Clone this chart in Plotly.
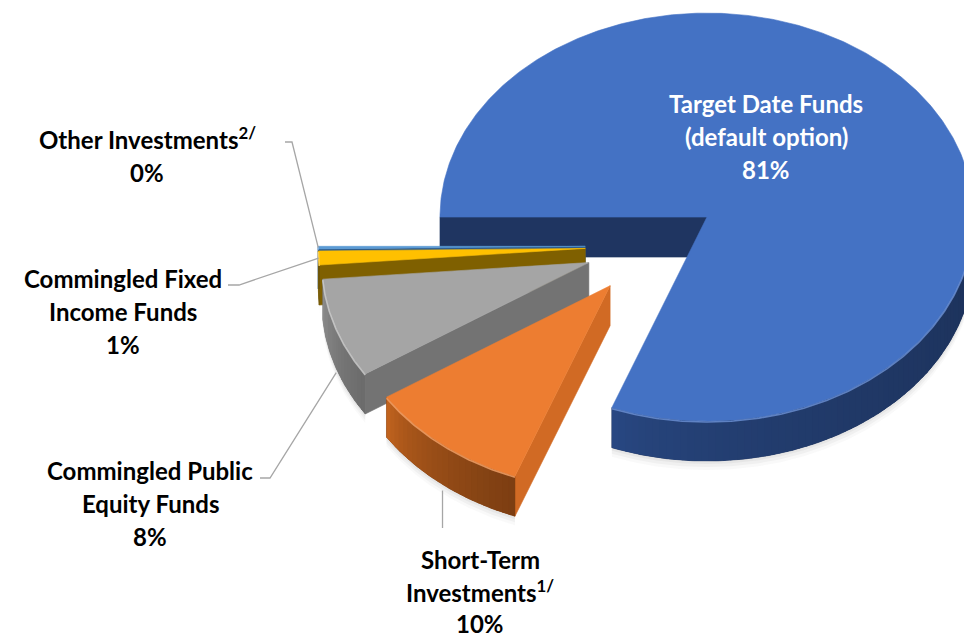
import numpy as np
import plotly.graph_objects as go

# ---- data -------------------------------------------------------------
categories = [
    "Target Date Funds (default option)",
    "Short-Term Investments",
    "Commingled Public Equity Funds",
    "Commingled Fixed Income Funds",
    "Other Investments",
]
label_lines = [
    ["Target Date Funds", "(default option)"],
    ["Short-Term", "Investments<sup>1/</sup>"],
    ["Commingled Public", "Equity Funds"],
    ["Commingled Fixed", "Income Funds"],
    ["Other Investments<sup>2/</sup>"],
]
shares = [80.8, 10.0, 7.9, 1.1, 0.2]

# ---- styling ----------------------------------------------------------
top_colors = ["#4472C4", "#ED7D31", "#A5A5A5", "#FFC000", "#5B9BD5"]
face_colors = ["#1F3561", "#D16A24", "#737373", "#7F6000", "#2F5C8A"]
wall_light = ["#294985", "#CA6820", "#999999", "#B38700", "#3E6E9E"]
wall_dark = ["#1C3159", "#7C3E12", "#6B6B6B", "#6A5000", "#254C75"]
bevel_colors = ["#6D92D6", "#F6A46B", "#CFCFCF", "#FFD966", "#8DB9E6"]
text_colors = ["white", "black", "black", "black", "black"]

# label placement: centre x and y of the first line, and line gap
label_pos = [(766, 103), (480, 559), (150, 470), (123, 278), (147, 138)]
label_gap = [33, 32, 33, 33, 34]
FONT = "Lato"
FONT_SIZE = 24

# pie geometry (pixel space)
CX, CY = 652, 246
RX, RY = 267, 204
DEPTH = 40
EXPLODE = 0.25
START = 180.0  # degrees, slices run clockwise


def col_mix(c1, c2, t):
    a = np.array([int(c1[i:i + 2], 16) for i in (1, 3, 5)], float)
    b = np.array([int(c2[i:i + 2], 16) for i in (1, 3, 5)], float)
    c = a + (b - a) * t
    return "rgb(%d,%d,%d)" % tuple(np.round(c))


def point(theta, shift, r=1.0, dz=0.0):
    t = np.radians(theta)
    return (CX + shift[0] + r * RX * np.cos(t),
            CY + shift[1] - r * RY * np.sin(t) + dz)


def arc(a, b, shift, dz=0.0, step=1.0):
    n = max(2, int(abs(b - a) / step) + 1)
    ts = np.linspace(a, b, n)
    xs, ys = zip(*[point(t, shift, dz=dz) for t in ts])
    return list(xs), list(ys)


fig = go.Figure()


def poly(xs, ys, color, width=0.6, opacity=1.0):
    fig.add_trace(go.Scatter(
        x=list(xs) + [xs[0]], y=list(ys) + [ys[0]],
        mode="lines", fill="toself", fillcolor=color,
        line=dict(color=color, width=width), opacity=opacity,
        hoverinfo="skip", showlegend=False))


total = float(sum(shares))
slices = []
acc = 0.0
for i, v in enumerate(shares):
    a0 = START - 360.0 * acc / total
    a1 = a0 - 360.0 * v / total
    acc += v
    mid = (a0 + a1) / 2
    m = np.radians(mid)
    shift = (EXPLODE * RX * np.cos(m), -EXPLODE * RY * np.sin(m))
    slices.append(dict(i=i, a0=a0, a1=a1, mid=mid, shift=shift))

# soft drop shadow under the front rims
for s in slices:
    lo, hi = max(s["a1"], -180.0), min(s["a0"], 0.0)
    if hi > lo:
        for off, op in ((9, 0.05), (6, 0.07), (3, 0.09)):
            xs, ys = arc(lo, hi, s["shift"], dz=DEPTH + off, step=0.5)
            xt, yt = arc(hi, lo, s["shift"], dz=DEPTH - 10, step=0.5)
            poly(xs + xt, ys + yt, "#808080", width=0, opacity=op)

# back-to-front painting order
order = sorted(slices, key=lambda s: -np.sin(np.radians(s["mid"])))

for s in order:
    i, a0, a1, sh = s["i"], s["a0"], s["a1"], s["shift"]
    apex_top = point(0, sh, r=0)
    apex_bot = (apex_top[0], apex_top[1] + DEPTH)

    # radial cut faces that turn towards the viewer
    for ang, visible in ((a0, np.cos(np.radians(a0)) < 0),
                         (a1, np.cos(np.radians(a1)) > 0)):
        if visible:
            et = point(ang, sh)
            eb = (et[0], et[1] + DEPTH)
            poly([apex_top[0], et[0], eb[0], apex_bot[0]],
                 [apex_top[1], et[1], eb[1], apex_bot[1]], face_colors[i])

    # outer curved wall on the front half, shaded left (lit) to right
    lo, hi = max(a1, -180.0), min(a0, 0.0)
    if hi > lo:
        xt, yt = arc(lo, hi, sh, step=0.5)
        xb, yb = arc(hi, lo, sh, dz=DEPTH, step=0.5)
        poly(xt + xb, yt + yb, wall_dark[i], width=0.5)
        nseg = max(1, int((hi - lo) / 1.5))
        edges = np.linspace(lo, hi, nseg + 1)
        for k in range(nseg):
            t0 = edges[k]
            t1 = min(hi, edges[k + 1] + 0.6)
            xt, yt = arc(t0, t1, sh, step=0.3)
            xb, yb = arc(t1, t0, sh, dz=DEPTH, step=0.3)
            frac = ((k + 0.5) / nseg) ** 0.55
            c = col_mix(wall_light[i], wall_dark[i], frac)
            poly(xt + xb, yt + yb, c, width=0)

    # top surface
    xs, ys = arc(a0, a1, sh, step=0.5)
    poly([apex_top[0]] + xs, [apex_top[1]] + ys, top_colors[i])

    # soft bevel along the front rim
    if hi > lo:
        xs, ys = arc(lo, hi, sh, dz=1.0, step=0.5)
        fig.add_trace(go.Scatter(x=xs, y=ys, mode="lines",
                                 line=dict(color=bevel_colors[i], width=1.6),
                                 opacity=0.8, hoverinfo="skip",
                                 showlegend=False))

# ---- labels -----------------------------------------------------------
annotations = []
for s in slices:
    i = s["i"]
    pct = 100.0 * shares[i] / total
    lines = label_lines[i] + ["%d%%" % round(pct)]
    x0, y0 = label_pos[i]
    for k, txt in enumerate(lines):
        annotations.append(dict(
            x=x0, y=y0 + k * label_gap[i], xref="x", yref="y",
            text="<b>%s</b>" % txt, showarrow=False,
            font=dict(family=FONT, size=FONT_SIZE, color=text_colors[i]),
            xanchor="center", yanchor="middle"))

# ---- leader lines (label side -> slice rim) ---------------------------
LEADER = "#A6A6A6"


def rim(idx, dz=0.0):
    s = slices[idx]
    return point(s["mid"], s["shift"], dz=dz)


leaders = [
    [(285, 142), (292, 142), rim(4)],
    [(228, 285), (239, 285), rim(3)],
    [(260, 478), (270, 478), rim(2, dz=DEPTH + 4)],
]
r1 = rim(1, dz=DEPTH + 6)
leaders.append([(r1[0], 528), r1])

for pts in leaders:
    xs, ys = zip(*pts)
    fig.add_trace(go.Scatter(x=xs, y=ys, mode="lines",
                             line=dict(color=LEADER, width=1.3),
                             hoverinfo="skip", showlegend=False))

fig.update_layout(
    width=964, height=640,
    margin=dict(l=0, r=0, t=0, b=0),
    paper_bgcolor="white", plot_bgcolor="white",
    xaxis=dict(range=[0, 964], visible=False, fixedrange=True),
    yaxis=dict(range=[640, 0], visible=False, fixedrange=True),
    annotations=annotations,
    showlegend=False,
)

fig.write_html("out.html")
